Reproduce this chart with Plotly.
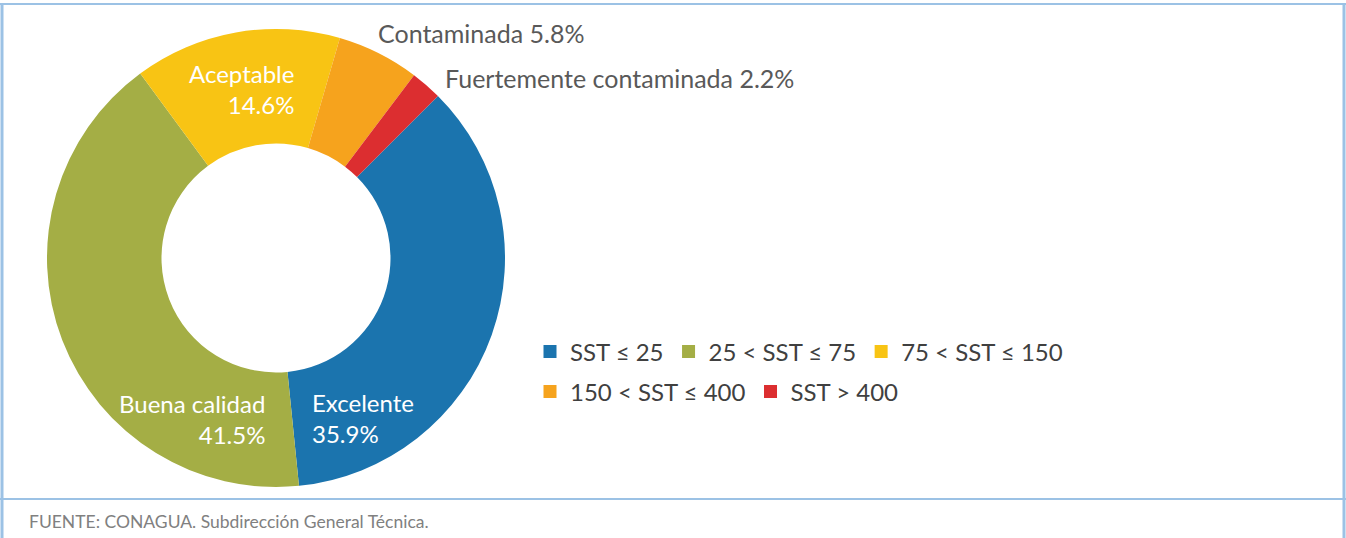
import plotly.graph_objects as go

# data
categories = ["Excelente", "Buena calidad", "Aceptable", "Contaminada", "Fuertemente contaminada"]
percentages = [35.9, 41.5, 14.6, 5.8, 2.2]
legend_labels = ["SST ≤ 25", "25 < SST ≤ 75", "75 < SST ≤ 150", "150 < SST ≤ 400", "SST > 400"]
colors = ["#1b74ae", "#a4ae45", "#f8c414", "#f6a31d", "#dc2e30"]
source_text = "FUENTE: CONAGUA. Subdirección General Técnica."

W, H = 1346, 538
FONT = "Lato, 'Open Sans', sans-serif"
BORDER = "#9cc2e5"


def px(x):
    return x / W


def py(y):
    return 1 - y / H


fig = go.Figure()

fig.add_trace(go.Pie(
    labels=categories,
    values=percentages,
    hole=0.5,
    sort=False,
    direction="clockwise",
    rotation=45,
    marker=dict(colors=colors, line=dict(width=0)),
    textinfo="none",
    hoverinfo="label+percent",
    showlegend=False,
    domain=dict(x=[px(47), px(505)], y=[py(487), py(29)]),
))

# legend entries (two rows, as in the original flow layout)
for i, (lab, col) in enumerate(zip(legend_labels, colors)):
    fig.add_trace(go.Scatter(
        x=[None], y=[None],
        mode="markers",
        marker=dict(symbol="square", size=13, color=col),
        name=lab,
        legend="legend" if i < 3 else "legend2",
        hoverinfo="skip",
    ))

# slice labels
inside = [
    # (index, x, y, anchor)
    (0, 310, 418, "left"),
    (1, 267, 419, "right"),
    (2, 296, 89, "right"),
]
annotations = []
for idx, x, y, anc in inside:
    annotations.append(dict(
        text=f"{categories[idx]}<br>{percentages[idx]}%",
        x=px(x), y=py(y), xref="paper", yref="paper",
        xanchor=anc, yanchor="middle", align=anc, showarrow=False,
        font=dict(family=FONT, size=24, color="white"),
    ))
outside = [(3, 376, 33), (4, 443, 78)]
for idx, x, y in outside:
    annotations.append(dict(
        text=f"{categories[idx]} {percentages[idx]}%",
        x=px(x), y=py(y), xref="paper", yref="paper",
        xanchor="left", yanchor="middle", showarrow=False,
        font=dict(family=FONT, size=25, color="#595959"),
    ))
annotations.append(dict(
    text=source_text,
    x=px(27), y=py(521), xref="paper", yref="paper",
    xanchor="left", yanchor="middle", showarrow=False,
    font=dict(family=FONT, size=17.5, color="#808080"),
))

shapes = [
    dict(type="line", xref="paper", yref="paper", x0=0, x1=1, y0=py(4), y1=py(4),
         line=dict(color=BORDER, width=2)),
    dict(type="line", xref="paper", yref="paper", x0=0, x1=1, y0=py(499), y1=py(499),
         line=dict(color=BORDER, width=2)),
    dict(type="line", xref="paper", yref="paper", x0=px(2), x1=px(2), y0=0, y1=py(4),
         line=dict(color=BORDER, width=3)),
    dict(type="line", xref="paper", yref="paper", x0=px(1344), x1=px(1344), y0=0, y1=py(4),
         line=dict(color=BORDER, width=3)),
]

legend_style = dict(
    orientation="h",
    xanchor="left", yanchor="middle",
    bgcolor="rgba(0,0,0,0)",
    font=dict(family=FONT, size=24, color="#404040"),
    itemclick=False, itemdoubleclick=False,
)

fig.update_layout(
    width=W, height=H,
    margin=dict(l=0, r=0, t=0, b=0),
    paper_bgcolor="white",
    plot_bgcolor="white",
    xaxis=dict(visible=False),
    yaxis=dict(visible=False),
    legend=dict(x=px(530), y=py(352), **legend_style),
    legend2=dict(x=px(530), y=py(392), **legend_style),
    annotations=annotations,
    shapes=shapes,
)

# drop the default body margin so the figure fills the window exactly
fig.write_html(
    "out.html",
    config={"displayModeBar": False},
    post_script="document.body.style.margin='0px';document.body.style.overflow='hidden';",
)
